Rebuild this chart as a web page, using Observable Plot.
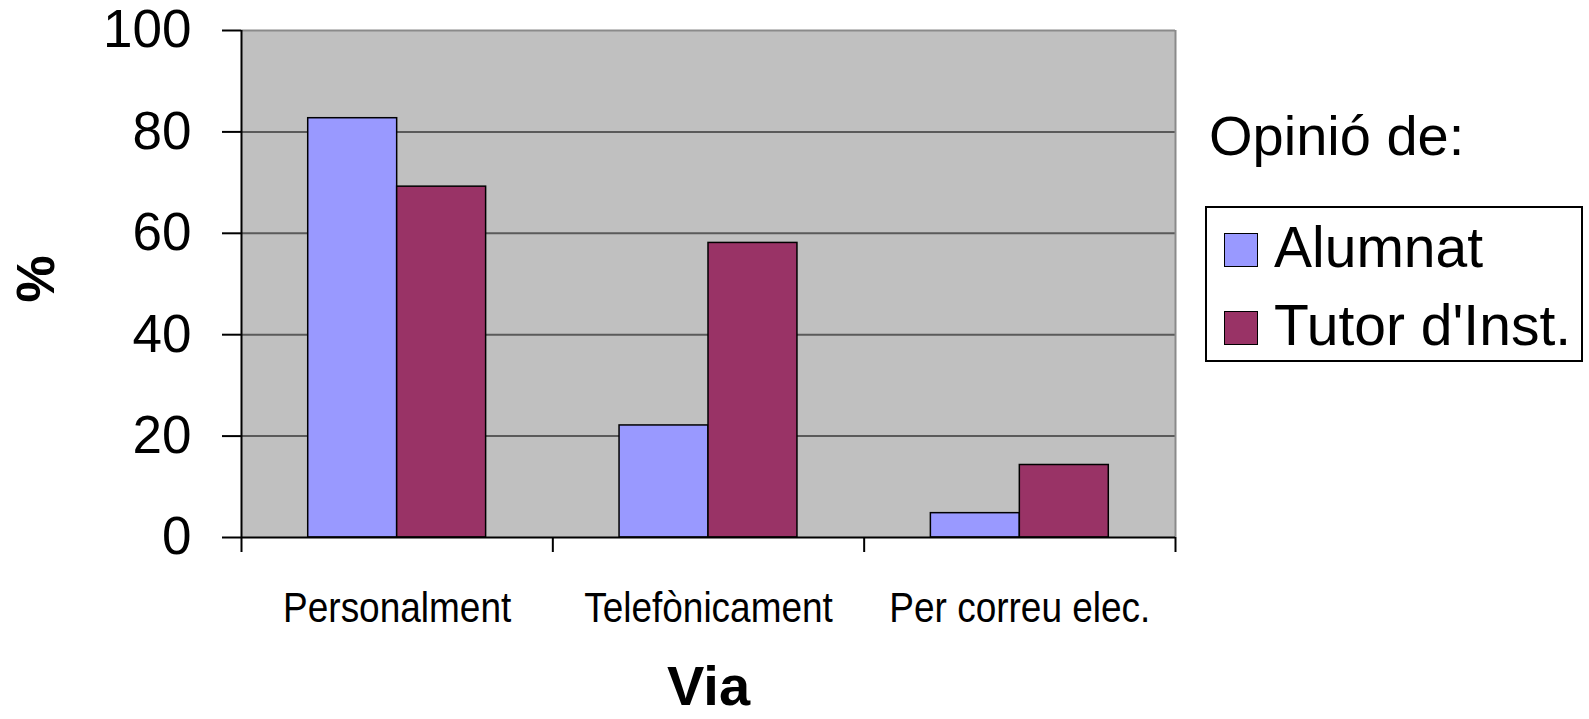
<!DOCTYPE html>
<html>
<head>
<meta charset="utf-8">
<script src="https://cdn.jsdelivr.net/npm/d3@7"></script>
<script src="https://cdn.jsdelivr.net/npm/@observablehq/plot@0.6"></script>
<style>
  html, body { margin: 0; padding: 0; background: #fff; }
  body { font-family: "Liberation Sans", Arial, sans-serif; }
  #wrap { position: relative; width: 1589px; height: 719px; }
  #legendTitle { position: absolute; left: 1209px; top: 108px; font-size: 56px; line-height: 1; white-space: nowrap; color: #000; }
  #legendBox { position: absolute; left: 1205px; top: 206px; width: 374px; height: 152px; border: 2px solid #000; background: #fff; }
  .item { position: absolute; left: 0; white-space: nowrap; font-size: 57px; line-height: 1; color: #000; }
  .sw { position: absolute; width: 32px; height: 32px; border: 1px solid #000; }
  .lbl { position: absolute; }
</style>
</head>
<body>
<div id="wrap">
  <div id="chart"></div>
  <div id="legendTitle">Opinió de:</div>
  <div id="legendBox"></div>
</div>
<script>
// ---- data ----
const categories = ["Personalment", "Telefònicament", "Per correu elec."];
const series = ["Alumnat", "Tutor d'Inst."];
const alumnat = [82.7, 22.1, 4.8];
const tutor = [69.2, 58.1, 14.3];
const yTicks = [0, 20, 40, 60, 80, 100];
const colors = ["#9999FF", "#993366"];
const legendTitle = "Opinió de:";

// Excel-style gap width (150%)
const gap = 1.5;
const values = [alumnat, tutor];
const data = categories.flatMap((c, i) =>
  series.map((s, si) => {
    const x1 = i + (gap / 2 + si) / (series.length + gap);
    return { category: c, series: s, value: values[si][i], x1, x2: x1 + 1 / (series.length + gap) };
  })
);

const plot = Plot.plot({
  width: 1589,
  height: 719,
  marginLeft: 241,
  marginRight: 414,
  marginTop: 30,
  marginBottom: 182,
  style: { fontFamily: "'Liberation Sans', Arial, sans-serif", color: "#000", background: "#fff" },
  x: { type: "linear", domain: [0, categories.length] },
  y: { domain: [0, 100] },
  color: { domain: series, range: colors },
  marks: [
    Plot.frame({ fill: "#C0C0C0", stroke: "none" }),
    Plot.ruleY(yTicks.filter(t => t > 0 && t < 100), { stroke: "#5a5a5a", strokeWidth: 2 }),
    Plot.ruleY([100], { stroke: "#8a8a8a", strokeWidth: 2 }),
    Plot.ruleX([categories.length], { stroke: "#8a8a8a", strokeWidth: 2 }),
    Plot.rectY(data, { x1: "x1", x2: "x2", y: "value", fill: "series", stroke: "#000", strokeWidth: 1.5 }),
    Plot.ruleX([0], { stroke: "#000", strokeWidth: 2 }),
    Plot.ruleY([0], { stroke: "#000", strokeWidth: 2 }),
    Plot.axisY({ ticks: yTicks, tickSize: 19, tickPadding: 31, fontSize: 53, label: null, strokeWidth: 2, tickFormat: d => String(d) }),
    Plot.axisX({ ticks: d3.range(categories.length + 1), tickSize: 15, tickFormat: () => "", label: null, strokeWidth: 2 }),
    Plot.axisX({ ticks: categories.map((c, i) => i + 0.5), tickSize: 0, tickPadding: 54, fontSize: 43, label: null,
      tickFormat: d => categories[Math.floor(d)] }),
    Plot.text(["%"], { frameAnchor: "left", textAnchor: "middle", lineAnchor: "middle", dx: -204, dy: -5, rotate: -90, fontSize: 53, fontWeight: "bold" }),
    Plot.text(["Via"], { frameAnchor: "bottom", textAnchor: "middle", lineAnchor: "middle", dy: 150, fontSize: 56, fontWeight: "bold" })
  ]
});
document.getElementById("chart").appendChild(plot);

// condensed category labels (the reference uses a narrow face)
d3.select(plot).selectAll('g[aria-label="x-axis tick label"] text').each(function () {
  if (this.textContent && this.textContent.length > 0) {
    const w = this.getComputedTextLength();
    this.setAttribute("textLength", (w * 0.86).toFixed(1));
    this.setAttribute("lengthAdjust", "spacingAndGlyphs");
  }
});

// legend
const box = document.getElementById("legendBox");
const tops = [11, 89];
series.forEach((s, i) => {
  const sw = document.createElement("div");
  sw.className = "sw";
  sw.style.left = "17px";
  sw.style.top = (tops[i] + 14) + "px";
  sw.style.background = colors[i];
  box.appendChild(sw);
  const lb = document.createElement("div");
  lb.className = "item lbl";
  lb.style.left = "67px";
  lb.style.top = tops[i] + "px";
  lb.textContent = s;
  box.appendChild(lb);
});
</script>
</body>
</html>
